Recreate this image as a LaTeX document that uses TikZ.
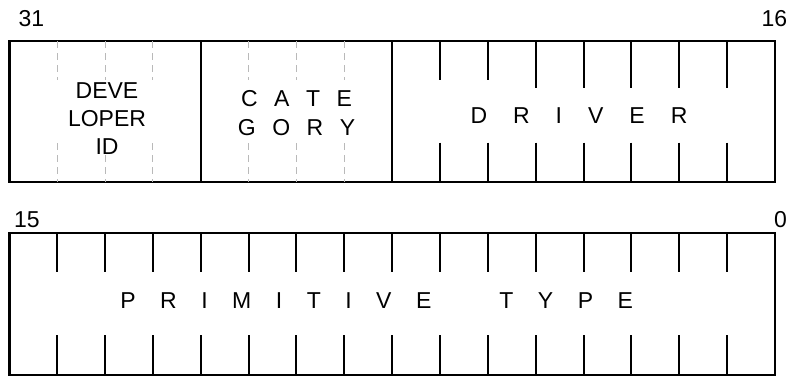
\documentclass[tikz,border=0pt]{standalone}
\usepackage{fontspec}
\setmainfont{Liberation Sans}

\newcommand\spacedby[1]{\spaceskip=#1\relax}

\begin{document}
\begin{tikzpicture}[x=1pt, y=-1pt,
  every node/.style={font=\fontsize{23}{28}\selectfont, inner sep=0pt},
  frame/.style={line width=2.4pt},
  bittick/.style={line width=2pt},
  subtick/.style={line width=0.9pt, gray!55, dash pattern=on 7pt off 5pt}]
  \useasboundingbox (0,0) rectangle (788,376);
  % upper half: bits 31..16
  \draw[frame] (9.3,41) rectangle (775,181.7);
  \draw[frame] (200.7,41) -- (200.7,181.7);
  \draw[frame] (392.2,41) -- (392.2,181.7);
  \foreach \i in {1,2,3,5,6,7} {
    \draw[subtick] (9.3+47.86*\i,41) -- (9.3+47.86*\i,80);
    \draw[subtick] (9.3+47.86*\i,143) -- (9.3+47.86*\i,181.7);
  }
  \foreach \i/\len in {9/80,10/80,11/88,12/88,13/88,14/88,15/88} {
    \draw[bittick] (9.3+47.86*\i,41) -- (9.3+47.86*\i,\len);
    \draw[bittick] (9.3+47.86*\i,142.7) -- (9.3+47.86*\i,181.7);
  }
  \node[anchor=north, align=center] (devid) at (107,82.3) {DEVE\\LOPER\\ID};
  \node[anchor=north, align=center,
        font={\fontsize{23}{29}\selectfont\spacedby{16.5pt}}] (categ) at (296.5,90) {C A T E\\G O R Y};
  \node[anchor=base, font={\fontsize{23}{28}\selectfont\spacedby{26pt}}] (driver) at (579,123) {D R I V E R};
  \node[anchor=base west] (b31) at (18.3,26.7) {31};
  \node[anchor=base west] (b16) at (761.5,26.7) {16};
  % lower half: bits 15..0
  \draw[frame] (9.3,232.7) rectangle (775,375);
  \foreach \i in {1,...,15} {
    \draw[bittick] (9.3+47.86*\i,232.7) -- (9.3+47.86*\i,271.7);
    \draw[bittick] (9.3+47.86*\i,335) -- (9.3+47.86*\i,375);
  }
  \node[anchor=base, font={\fontsize{23}{28}\selectfont\spacedby{24.5pt}}] (primtype) at (376.7,308.3) {P R I M I T I V E \hspace{19pt} T Y P E};
  \node[anchor=base west] (b15) at (14,227.3) {15};
  \node[anchor=base west] (b0) at (774,227.3) {0};
\end{tikzpicture}
\end{document}
